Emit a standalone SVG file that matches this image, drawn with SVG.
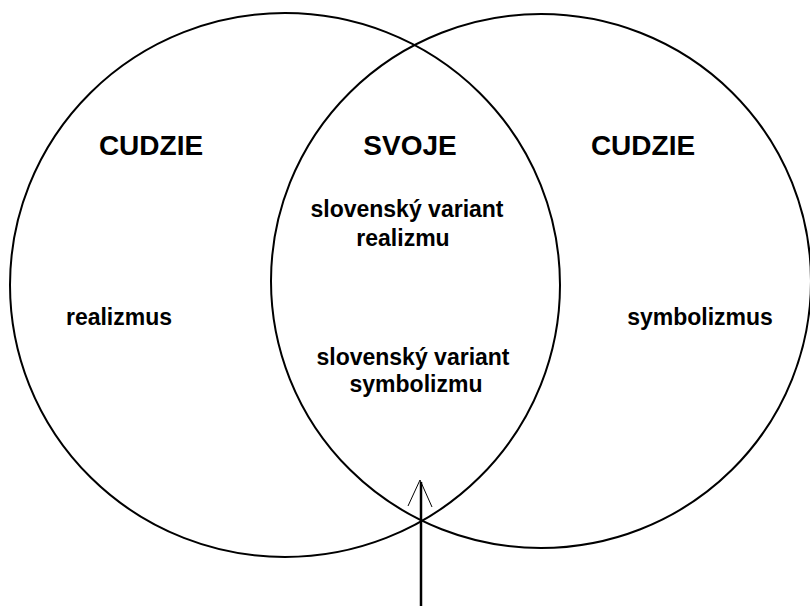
<svg xmlns="http://www.w3.org/2000/svg" width="810" height="606" viewBox="0 0 810 606">
<style>
.c{fill:none;stroke:#000;stroke-width:2}
.h{font-family:"Liberation Sans",Arial,sans-serif;font-weight:bold;font-size:28px;fill:#000;text-anchor:middle}
.t{font-family:"Liberation Sans",Arial,sans-serif;font-weight:bold;font-size:23px;fill:#000;text-anchor:middle}
</style>
<rect width="810" height="606" fill="#fff"/>
<g id="left">
<ellipse class="c" cx="285" cy="285" rx="275" ry="272"/>
<text class="h" x="151" y="155">CUDZIE</text>
<text class="t" x="119" y="325">realizmus</text>
</g>
<g id="right">
<ellipse class="c" cx="541" cy="281" rx="270" ry="267"/>
<text class="h" x="643" y="155">CUDZIE</text>
<text class="t" x="700" y="325">symbolizmus</text>
</g>
<g id="overlap">
<text class="h" x="410" y="155">SVOJE</text>
<text class="t" x="407" y="217">slovenský variant</text>
<text class="t" x="403" y="246">realizmu</text>
<text class="t" x="413" y="365">slovenský variant</text>
<text class="t" x="416" y="392">symbolizmu</text>
</g>
<g id="connectors">
<line x1="421" y1="606" x2="421" y2="482" stroke="#000" stroke-width="2.5"/>
<path d="M408,506 L420,480 L432,507" fill="none" stroke="#000" stroke-width="1"/>
</g>
</svg>
